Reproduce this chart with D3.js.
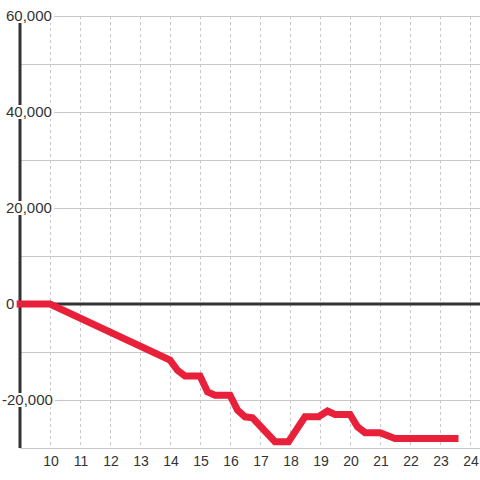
<!DOCTYPE html>
<html>
<head>
<meta charset="utf-8">
<script src="https://cdn.jsdelivr.net/npm/d3@7.9.0/dist/d3.min.js"></script>
<style>
  html, body { margin: 0; padding: 0; background: #fff; }
  svg { display: block; font-family: "Liberation Sans", Arial, sans-serif; }
</style>
</head>
<body>
<svg id="chart" width="480" height="480"></svg>
<script>
// --- data (hour of day, running value)
const hours = [9, 10, 14, 14.25, 14.5, 15, 15.25, 15.5, 16, 16.25, 16.5, 16.75,
               17.5, 17.95, 18.5, 18.95, 19.25, 19.5, 20, 20.25, 20.5, 21, 21.5, 23.5];
const values = [0, 0, -11700, -13800, -15000, -15000, -18300, -19000, -19000, -22100, -23500, -23700,
                -28700, -28700, -23500, -23500, -22300, -23000, -23000, -25600, -26800, -26800, -28000, -28000];
const xTicks = [10, 11, 12, 13, 14, 15, 16, 17, 18, 19, 20, 21, 22, 23, 24];
const yLabels = [60000, 40000, 20000, 0, -20000];
const yGrid = [60000, 50000, 40000, 30000, 20000, 10000, -10000, -20000, -30000];

const W = 480, H = 480;
const padLeft = 20, padTop = 16, padBottom = 448;

const svg = d3.select('#chart');
const x = d3.scaleLinear().domain([9, 24 + 1/3]).range([padLeft, W]);
const y = d3.scaleLinear().domain([-30000, 60000]).range([padBottom, padTop]);

// vertical dashed grid
svg.append('g')
  .selectAll('line')
  .data(xTicks)
  .join('line')
    .attr('x1', d => x(d) + 0.5).attr('x2', d => x(d) + 0.5)
    .attr('y1', padTop).attr('y2', padBottom)
    .attr('stroke', '#c8c8c8')
    .attr('stroke-dasharray', '3,3');

// horizontal grid
svg.append('g')
  .selectAll('line')
  .data(yGrid)
  .join('line')
    .attr('x1', padLeft).attr('x2', W)
    .attr('y1', d => y(d) + 0.5).attr('y2', d => y(d) + 0.5)
    .attr('stroke', '#c8c8c8');

// y axis line + zero line
svg.append('line')
  .attr('x1', padLeft).attr('x2', padLeft)
  .attr('y1', padTop).attr('y2', padBottom)
  .attr('stroke', '#333').attr('stroke-width', 3);
svg.append('line')
  .attr('x1', padLeft).attr('x2', W)
  .attr('y1', y(0)).attr('y2', y(0))
  .attr('stroke', '#333').attr('stroke-width', 3);

// red line
const pts = hours.map((h, i) => [h, values[i]]);
svg.append('path')
  .datum(pts)
  .attr('fill', 'none')
  .attr('stroke', '#e8203a')
  .attr('stroke-width', 7)
  .attr('stroke-linecap', 'square')
  .attr('d', d3.line().x(d => x(d[0])).y(d => y(d[1])));

// y labels with background boxes
const fmt = d3.format(',');
const yl = svg.append('g').selectAll('g')
  .data(yLabels)
  .join('g')
    .attr('transform', d => `translate(${d < 0 ? 2 : 6},${y(d)})`);
yl.append('text')
  .attr('dy', '0.36em')
  .attr('font-size', 15)
  .attr('fill', '#333')
  .text(d => fmt(d).replace('−', '-'));
yl.each(function () {
  const g = d3.select(this);
  const bb = g.select('text').node().getBBox();
  g.insert('rect', 'text')
    .attr('x', bb.x - 1).attr('y', -7)
    .attr('width', bb.width + 3).attr('height', 14)
    .attr('fill', '#fff');
});

// x labels
svg.append('g')
  .selectAll('text')
  .data(xTicks)
  .join('text')
    .attr('x', d => x(d) + 1)
    .attr('y', 461)
    .attr('dy', '0.36em')
    .attr('text-anchor', 'middle')
    .attr('font-size', 14)
    .attr('fill', '#333')
    .text(d => d);
</script>
</body>
</html>
